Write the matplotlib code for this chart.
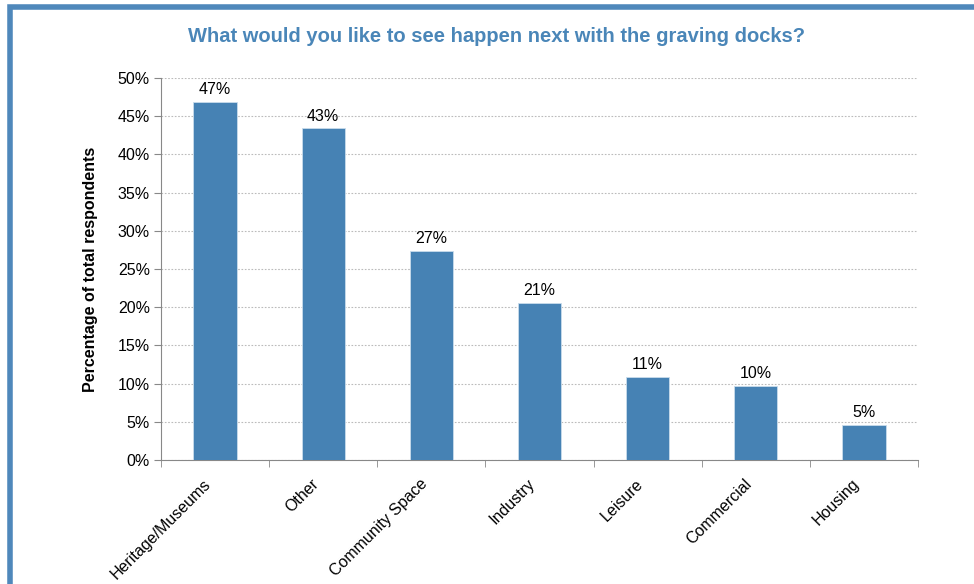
import numpy as np
import matplotlib.pyplot as plt
from matplotlib.patches import Rectangle
from matplotlib.transforms import ScaledTranslation

plt.rcParams['font.family'] = ['Liberation Sans', 'DejaVu Sans']

# Data
categories = ['Heritage/Museums', 'Other', 'Community Space', 'Industry',
              'Leisure', 'Commercial', 'Housing']
values = [46.9, 43.4, 27.4, 20.6, 10.9, 9.7, 4.6]
labels = ['47%', '43%', '27%', '21%', '11%', '10%', '5%']
yticks = [0, 5, 10, 15, 20, 25, 30, 35, 40, 45, 50]

blue = '#4682b4'
grey = '#888888'

fig = plt.figure(figsize=(9.74, 5.84), dpi=100)

# blue frame around the chart (runs off right and bottom)
fig.patches.append(Rectangle((10 / 974, -0.05), 1.2, 1 - 7 / 584 + 0.05,
                             transform=fig.transFigure, fill=False,
                             edgecolor='#4f88bb', linewidth=4, zorder=0))

ax = fig.add_axes([161 / 974, 1 - 460 / 584, (918 - 161) / 974, (460 - 78) / 584])

x = np.arange(len(categories))
ax.bar(x, values, width=0.4, color=blue, edgecolor='#c9dcec', linewidth=0.6, zorder=3)

for xi, v, lab in zip(x, values, labels):
    ax.text(xi, v + 0.6, lab, ha='center', va='bottom', fontsize=11.5, color='black')

ax.set_xlim(-0.5, len(categories) - 0.5)
ax.set_ylim(0, 50)
ax.set_yticks(yticks)
ax.set_yticklabels([f'{t}%' for t in yticks], fontsize=11.5)

# category labels: rotated text under each bar, nudged left/down
ax.set_xticks(x)
ax.set_xticklabels([])
ax.tick_params(axis='x', length=0)
shift = ScaledTranslation(-12 / 100, -16 / 100, fig.dpi_scale_trans)
for xi, name in zip(x, categories):
    ax.text(xi, 0, name, transform=ax.get_xaxis_transform() + shift,
            rotation=45, ha='right', va='top', rotation_mode='anchor', fontsize=11.5)

ax.set_xticks(np.arange(-0.5, len(categories), 1), minor=True)
ax.tick_params(axis='x', which='minor', length=5, color=grey, direction='out')
ax.tick_params(axis='y', length=5, color=grey, direction='out', pad=3)

ax.yaxis.grid(True, linestyle=(0, (1.5, 1.5)), color='#bbbbbb', linewidth=0.8, zorder=0)
ax.set_axisbelow(True)

for s in ['top', 'right']:
    ax.spines[s].set_visible(False)
ax.spines['left'].set_color(grey)
ax.spines['bottom'].set_color(grey)

ax.set_ylabel('Percentage of total respondents', fontsize=11.5, fontweight='bold',
              labelpad=14)

fig.text(497 / 974, 1 - 36 / 584, 'What would you like to see happen next with the graving docks?',
         ha='center', va='center', fontsize=14.5, fontweight='bold', color='#4a86b8')

fig.savefig('out.png', dpi=100)
